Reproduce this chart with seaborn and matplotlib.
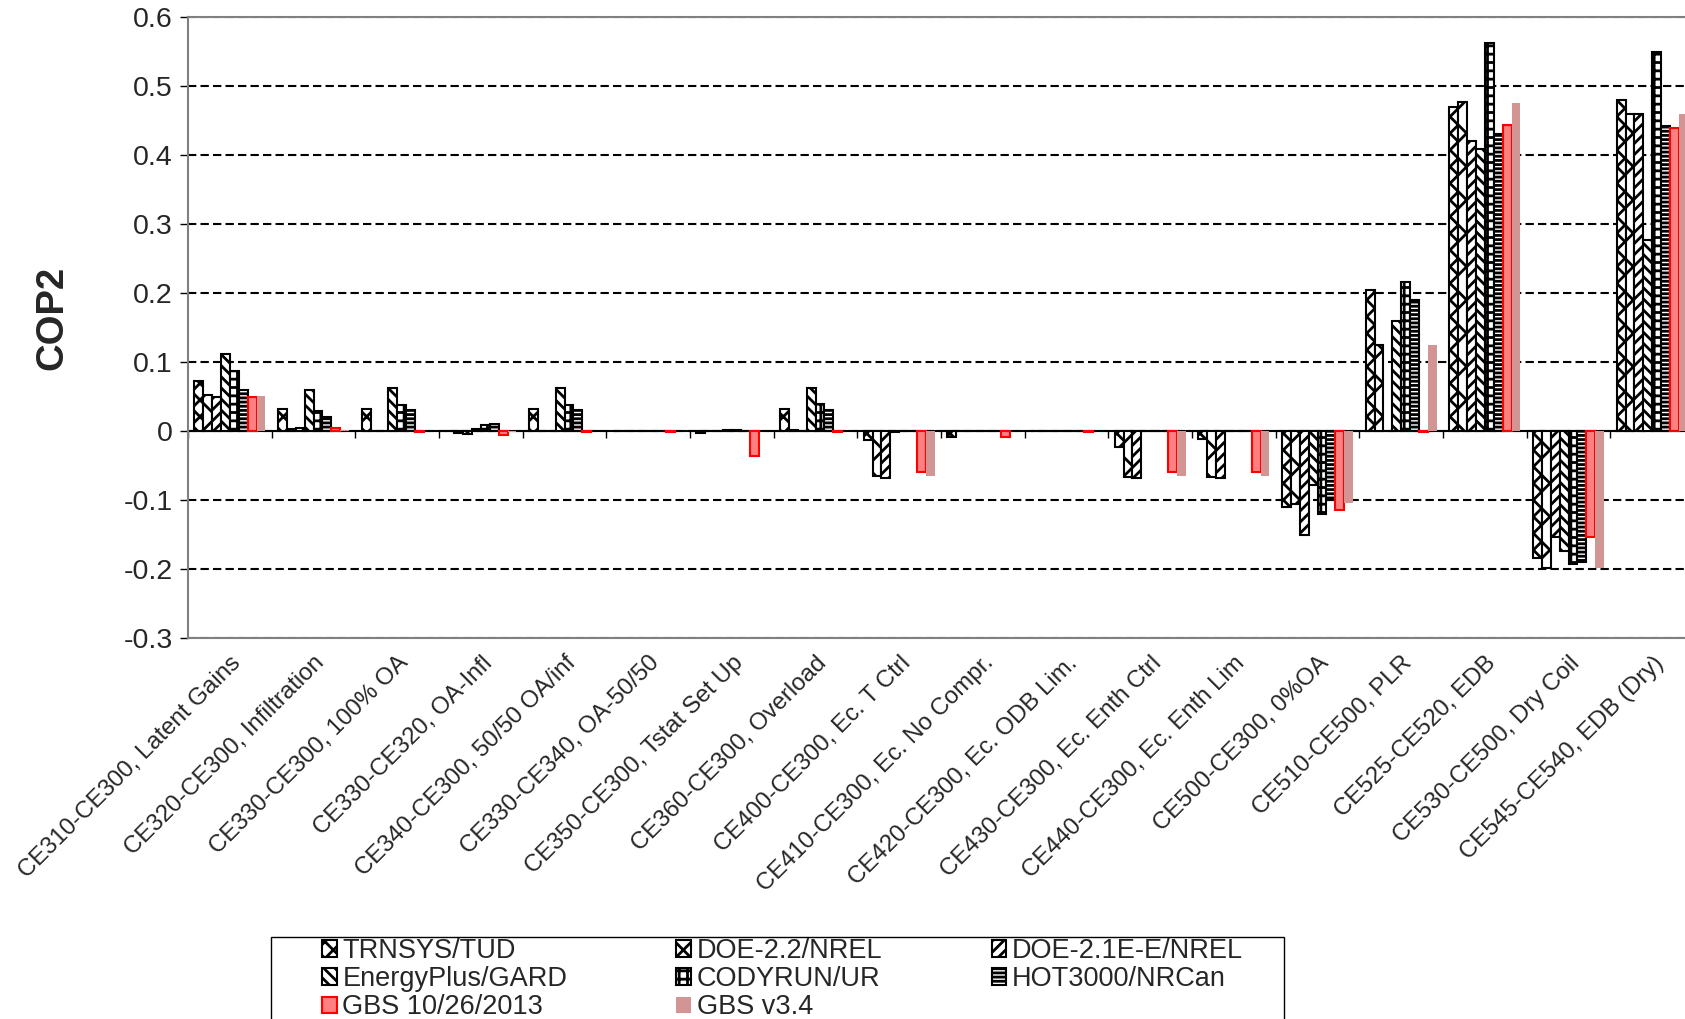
import numpy as np
import pandas as pd
import matplotlib.pyplot as plt
import matplotlib.patches as mpatches
from matplotlib.ticker import FuncFormatter
import seaborn as sns

# ---- data ----
cases = [
    'CE310-CE300, Latent Gains', 'CE320-CE300, Infiltration', 'CE330-CE300, 100% OA',
    'CE330-CE320, OA-Infl', 'CE340-CE300, 50/50 OA/inf', 'CE330-CE340, OA-50/50',
    'CE350-CE300, Tstat Set Up', 'CE360-CE300, Overload', 'CE400-CE300, Ec. T Ctrl',
    'CE410-CE300, Ec. No Compr.', 'CE420-CE300, Ec. ODB Lim.', 'CE430-CE300, Ec. Enth Ctrl',
    'CE440-CE300, Ec. Enth Lim', 'CE500-CE300, 0%OA', 'CE510-CE500, PLR',
    'CE525-CE520, EDB', 'CE530-CE500, Dry Coil', 'CE545-CE540, EDB (Dry)',
]
programs = ['TRNSYS/TUD', 'DOE-2.2/NREL', 'DOE-2.1E-E/NREL', 'EnergyPlus/GARD',
            'CODYRUN/UR', 'HOT3000/NRCan', 'GBS 10/26/2013', 'GBS v3.4']

trnsys = [0.072, 0.032, 0.032, 0.0, 0.032, 0.0, -0.003, 0.032, -0.013,
          -0.008, 0.0, -0.023, -0.012, -0.110, 0.204, 0.470, -0.184, 0.480]
doe22 = [0.052, 0.003, 0.0, -0.003, 0.0, 0.0, 0.0, 0.001, -0.065,
         0.0, 0.0, -0.066, -0.066, -0.106, 0.124, 0.477, -0.199, 0.460]
doe21e = [0.050, 0.004, 0.0, -0.004, 0.0, 0.0, 0.0, 0.0, -0.068,
          0.0, 0.0, -0.068, -0.068, -0.151, 0.0, 0.420, -0.154, 0.460]
eplus = [0.111, 0.060, 0.062, 0.003, 0.062, 0.0, 0.001, 0.063, -0.001,
         0.0, 0.0, 0.0, 0.0, -0.078, 0.160, 0.409, -0.174, 0.277]
codyrun = [0.087, 0.029, 0.038, 0.009, 0.038, 0.0, 0.001, 0.039, 0.0,
           0.0, 0.0, 0.0, 0.0, -0.121, 0.216, 0.562, -0.193, 0.550]
hot3000 = [0.060, 0.021, 0.030, 0.010, 0.030, 0.0, 0.0, 0.030, 0.0,
           0.0, 0.0, 0.0, 0.0, -0.100, 0.190, 0.431, -0.190, 0.442]
gbs_2013 = [0.050, 0.005, -0.001, -0.006, -0.001, -0.002, -0.036, -0.001, -0.059,
            -0.008, -0.002, -0.059, -0.059, -0.114, -0.001, 0.444, -0.154, 0.439]
gbs_v34 = [0.051, 0.002, 0.0, -0.002, 0.0, 0.0, 0.0, 0.0, -0.065,
           0.0, 0.0, -0.065, -0.065, -0.104, 0.124, 0.476, -0.198, 0.459]

series = [trnsys, doe22, doe21e, eplus, codyrun, hot3000, gbs_2013, gbs_v34]

rows = []
for prog, vals in zip(programs, series):
    for case, v in zip(cases, vals):
        rows.append({'Case': case, 'Program': prog, 'COP2': v})
df = pd.DataFrame(rows)

# ---- styling ----
fills = {p: 'white' for p in programs}
fills['GBS 10/26/2013'] = '#FF8080'
fills['GBS v3.4'] = '#D39494'
edges = {p: 'black' for p in programs}
edges['GBS 10/26/2013'] = '#FF0000'
edges['GBS v3.4'] = 'none'
hatches = {
    'TRNSYS/TUD': 'xx',
    'DOE-2.2/NREL': 'x',
    'DOE-2.1E-E/NREL': '///',
    'EnergyPlus/GARD': '\\\\\\',
    'CODYRUN/UR': '++',
    'HOT3000/NRCan': '----',
    'GBS 10/26/2013': '',
    'GBS v3.4': '',
}

sns.set_style('white')
plt.rcParams['font.family'] = ['Liberation Sans', 'DejaVu Sans']
plt.rcParams['axes.unicode_minus'] = False
plt.rcParams['hatch.linewidth'] = 2.0

fig = plt.figure(figsize=(16.85, 10.19), dpi=100)
ax = fig.add_axes([0.1116, 0.3739, 0.8938, 0.6094])

sns.barplot(data=df, x='Case', y='COP2', hue='Program', order=cases, hue_order=programs,
            palette=fills, saturation=1, width=0.85, gap=0, errorbar=None,
            legend=False, ax=ax)

for prog, cont in zip(programs, ax.containers):
    for bar in cont:
        bar.set_edgecolor(edges[prog])
        bar.set_hatch(hatches[prog])
        bar.set_linewidth(0 if edges[prog] == 'none' else 1.5)

ymin, ymax = -0.3, 0.6
ax.set_ylim(ymin, ymax)
ax.set_xlim(-0.5, len(cases) - 0.5)
ax.set_yticks(np.arange(-3, 7) / 10)
ax.yaxis.set_major_formatter(FuncFormatter(lambda v, _: '0' if abs(v) < 1e-9 else f'{v:.1f}'))
ax.tick_params(axis='y', direction='out', length=6, width=1, color='black',
               labelsize=20.5, pad=5, left=True)

ax.set_xticks(range(len(cases)))
ax.set_xticklabels(cases, rotation=45, ha='right', va='top', rotation_mode='anchor', fontsize=17.3)
ax.tick_params(axis='x', length=0, pad=10)
ax.set_xlabel('')

ax.yaxis.grid(True, color='black', linestyle=(0, (4, 2)), linewidth=1.5)
ax.xaxis.grid(False)
ax.set_axisbelow(True)

for side in ['left', 'top', 'bottom']:
    ax.spines[side].set_color('#808080')
    ax.spines[side].set_linewidth(1.5)
ax.spines['right'].set_visible(False)

# category axis crossing at zero with ticks between groups
zero_pos = (0 - ymin) / (ymax - ymin)
sec = ax.secondary_xaxis(zero_pos)
sec.set_xticks(np.arange(-0.5, len(cases), 1))
sec.xaxis.set_ticks_position('bottom')
sec.tick_params(axis='x', direction='out', length=5, width=1, color='black',
                labelbottom=False, labeltop=False)
for side in ['top', 'bottom']:
    sec.spines[side].set_color('black')
    sec.spines[side].set_linewidth(1.5)

ax.set_ylabel('COP2', fontsize=27.5, fontweight='bold')
ax.yaxis.set_label_coords(-0.078, 0.515)

# legend, filled row by row like the original
handles = [mpatches.Patch(facecolor=fills[p], edgecolor=edges[p], hatch=hatches[p],
                          linewidth=0 if edges[p] == 'none' else 1.5) for p in programs]
order = [0, 3, 6, 1, 4, 7, 2, 5]
fig.legend([handles[i] for i in order], [programs[i] for i in order], ncols=3,
           loc='upper left', bbox_to_anchor=(0.1911, -0.1, 0.5466, 0.1795), mode='expand',
           frameon=False, fontsize=19.5, borderpad=0, borderaxespad=0,
           handlelength=0.55, handleheight=0.55, handletextpad=0.2, labelspacing=0.08)
fig.add_artist(mpatches.Rectangle((271 / 1685, -0.02), 1013 / 1685, 1 - 937 / 1019 + 0.02,
                                  transform=fig.transFigure, fill=False,
                                  edgecolor='black', linewidth=1))

fig.savefig('out.png', dpi=100)
